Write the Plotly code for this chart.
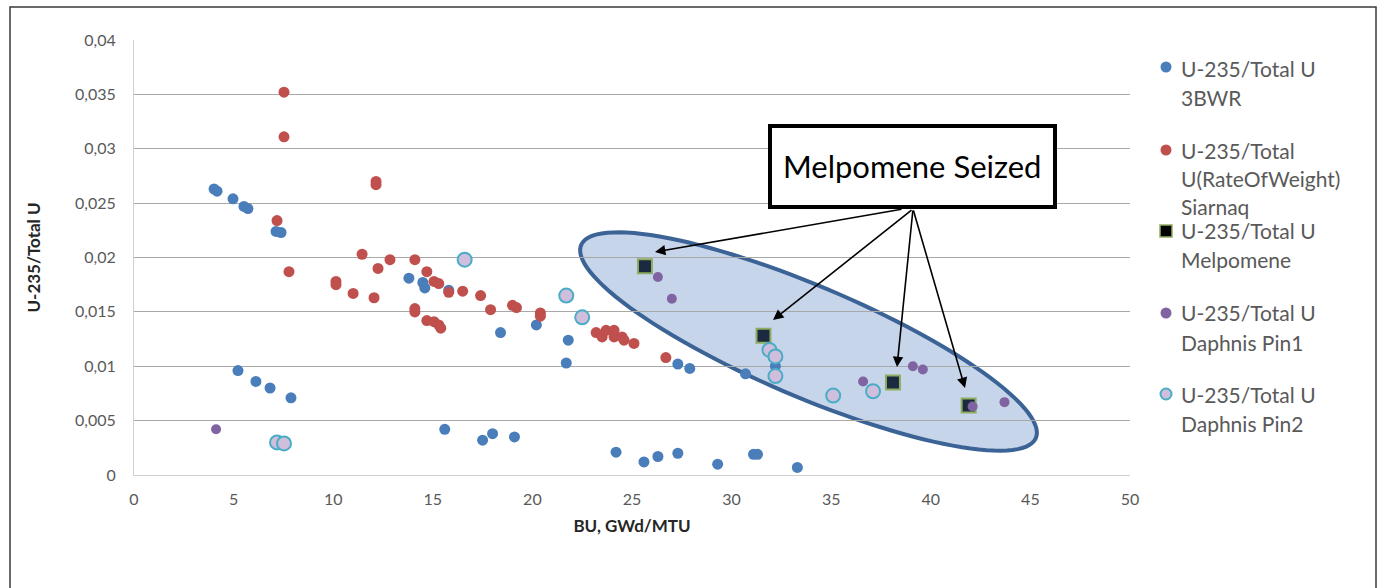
import numpy as np
import plotly.graph_objects as go

# ---- data: U-235 / total U versus burn-up (GWd/MTU) ----
bwr_bu = [4.02, 4.17, 4.97, 5.52, 5.72, 7.13, 7.38, 5.22, 6.12, 6.83, 7.88,
          13.8, 14.5, 14.6, 15.8, 18.4, 20.2, 21.8, 21.7, 15.6, 17.5, 18.0,
          19.1, 24.2, 25.6, 26.3, 27.3, 27.3, 27.9, 29.3, 30.7, 31.1, 31.3,
          32.2, 33.3]
bwr_ratio = [0.0263, 0.0261, 0.0254, 0.0247, 0.0245, 0.0224, 0.0223, 0.0096,
             0.0086, 0.0080, 0.0071, 0.0181, 0.0177, 0.0172, 0.0170, 0.0131,
             0.0138, 0.0124, 0.0103, 0.0042, 0.0032, 0.0038, 0.0035, 0.0021,
             0.0012, 0.0017, 0.0020, 0.0102, 0.0098, 0.0010, 0.0093, 0.0019,
             0.0019, 0.0100, 0.0007]

siarnaq_bu = [7.53, 7.53, 12.15, 12.15, 7.18, 7.78, 11.45, 12.25, 12.85, 14.1,
              10.14, 10.14, 11.0, 12.05, 14.7, 15.06, 15.3, 15.8, 16.5, 17.4,
              17.9, 19.0, 19.2, 20.4, 20.4, 14.1, 14.1, 14.7, 15.06, 15.3, 15.4,
              23.2, 23.5, 23.7, 24.1, 24.1, 24.5, 24.6, 25.1, 26.7]
siarnaq_ratio = [0.0352, 0.0311, 0.0270, 0.0267, 0.0234, 0.0187, 0.0203, 0.0190,
                 0.0198, 0.0198, 0.0178, 0.0175, 0.0167, 0.0163, 0.0187, 0.0178,
                 0.0176, 0.0168, 0.0169, 0.0165, 0.0152, 0.0156, 0.0154, 0.0149,
                 0.0146, 0.0153, 0.0150, 0.0142, 0.0141, 0.0138, 0.0135, 0.0131,
                 0.0127, 0.0133, 0.0133, 0.0127, 0.0127, 0.0124, 0.0121, 0.0108]

melpomene_bu = [25.65, 31.6, 38.1, 41.9]
melpomene_ratio = [0.0192, 0.0128, 0.0085, 0.0064]

pin1_bu = [4.12, 26.3, 27.0, 36.6, 39.1, 39.6, 42.1, 43.7]
pin1_ratio = [0.0042, 0.0182, 0.0162, 0.0086, 0.0100, 0.0097, 0.0063, 0.0067]

pin2_bu = [7.18, 7.53, 16.6, 21.7, 22.5, 31.9, 32.2, 32.2, 35.1, 37.1]
pin2_ratio = [0.0030, 0.0029, 0.0198, 0.0165, 0.0145, 0.0115, 0.0109, 0.0091,
              0.0073, 0.0077]

x_ticks = [0, 5, 10, 15, 20, 25, 30, 35, 40, 45, 50]
y_ticks = [0, 0.005, 0.01, 0.015, 0.02, 0.025, 0.03, 0.035, 0.04]
y_tick_text = ["0", "0,005", "0,01", "0,015", "0,02", "0,025", "0,03", "0,035", "0,04"]

series_names = [
    ["U-235/Total U", "3BWR"],
    ["U-235/Total", "U(RateOfWeight)", "Siarnaq"],
    ["U-235/Total U", "Melpomene"],
    ["U-235/Total U", "Daphnis Pin1"],
    ["U-235/Total U", "Daphnis Pin2"],
]

# ---- layout geometry ----
W, H = 1377, 588
ML, MR, MT, MB = 134, 247, 40, 113
PW, PH = W - ML - MR, H - MT - MB
X_RANGE = [0, 50]
Y_RANGE = [0, 0.04]
FONT = "Lato, 'Open Sans', sans-serif"
GREY_TEXT = "#595959"


def px_to_data(px, py):
    """Convert page pixel coordinates to data coordinates."""
    x = X_RANGE[0] + (px - ML) / PW * (X_RANGE[1] - X_RANGE[0])
    y = Y_RANGE[0] + (MT + PH - py) / PH * (Y_RANGE[1] - Y_RANGE[0])
    return x, y


def px_to_paper(px, py):
    return (px - ML) / PW, (MT + PH - py) / PH


fig = go.Figure()

marker_styles = [
    dict(symbol="circle", size=11, color="#4a7ebb", line=dict(width=0)),
    dict(symbol="circle", size=11, color="#c0504d", line=dict(width=0)),
    dict(symbol="square", size=14, color="#1c2a3f", line=dict(width=2, color="#8fad62")),
    dict(symbol="circle", size=10, color="#8064a2", line=dict(width=0)),
    dict(symbol="circle", size=14, color="#cfbfdc", line=dict(width=2, color="#4bacc6")),
]
series_xy = [
    (bwr_bu, bwr_ratio),
    (siarnaq_bu, siarnaq_ratio),
    (melpomene_bu, melpomene_ratio),
    (pin1_bu, pin1_ratio),
    (pin2_bu, pin2_ratio),
]
for (xs, ys), style, name in zip(series_xy, marker_styles, series_names):
    fig.add_trace(go.Scatter(x=xs, y=ys, mode="markers", marker=style,
                             name=" ".join(name), showlegend=False))

# ---- highlight ellipse around the Melpomene / Daphnis group ----
cx_px, cy_px = 808.5, 341.5
a_px, b_px, ang = 247.0, 55.5, np.deg2rad(23.0)
t = np.linspace(0, 2 * np.pi, 120)
ex = cx_px + a_px * np.cos(ang) * np.cos(t) - b_px * np.sin(ang) * np.sin(t)
ey = cy_px + a_px * np.sin(ang) * np.cos(t) + b_px * np.cos(ang) * np.sin(t)
pts = [px_to_data(px, py) for px, py in zip(ex, ey)]
path = "M " + " L ".join(f"{x:.4f},{y:.6f}" for x, y in pts) + " Z"
fig.add_shape(type="path", path=path, xref="x", yref="y", layer="below",
              fillcolor="#c6d5ea", line=dict(color="#3b6396", width=4))

# ---- callout box ----
bx0, by0 = px_to_data(770, 207)
bx1, by1 = px_to_data(1055, 126)
fig.add_shape(type="rect", x0=bx0, x1=bx1, y0=by0, y1=by1, xref="x", yref="y",
              fillcolor="white", line=dict(color="black", width=4), layer="above")
tx, ty = px_to_data(912, 166)
fig.add_annotation(x=tx, y=ty, xref="x", yref="y", text="Melpomene Seized",
                   showarrow=False, font=dict(family=FONT, size=31, color="black"))

# arrows from the callout to the seized samples
arrow_tails = [(903, 209), (913, 209), (913, 209), (913, 209)]
arrow_heads = [(655, 252), (773, 320), (897, 367), (965, 388)]
for (tpx, tpy), (hpx, hpy) in zip(arrow_tails, arrow_heads):
    hx, hy = px_to_data(hpx, hpy)
    ax_, ay_ = px_to_data(tpx, tpy)
    fig.add_annotation(x=hx, y=hy, ax=ax_, ay=ay_, xref="x", yref="y",
                       axref="x", ayref="y", text="", showarrow=True,
                       arrowhead=2, arrowsize=1.3, arrowwidth=1.6,
                       arrowcolor="black")

# ---- legend (drawn beside the plot) ----
legend_marker_y = [67, 150, 231, 313, 394]
legend_line_y = [[68, 97], [150, 178, 206], [231, 259], [313, 342], [394, 423]]
legend_text_x = 1179
legend_marker_x = 1166
for style, name, my, lys in zip(marker_styles, series_names, legend_marker_y, legend_line_y):
    mx_p, my_p = px_to_paper(legend_marker_x, my)
    r = (style["size"] - 2) / 2 if style["symbol"] == "circle" else 6
    if style["symbol"] == "square":
        fig.add_shape(type="rect", xref="paper", yref="paper", xsizemode="pixel",
                      ysizemode="pixel", xanchor=mx_p, yanchor=my_p,
                      x0=-6, x1=6, y0=-6, y1=6, fillcolor="black",
                      line=dict(color="#8fad62", width=1.5))
    else:
        lw = style["line"].get("width", 0)
        fig.add_shape(type="circle", xref="paper", yref="paper", xsizemode="pixel",
                      ysizemode="pixel", xanchor=mx_p, yanchor=my_p,
                      x0=-5.5, x1=5.5, y0=-5.5, y1=5.5, fillcolor=style["color"],
                      line=dict(color=style["line"].get("color", style["color"]),
                                width=lw if lw else 0))
    for line_text, ly in zip(name, lys):
        lx_p, ly_p = px_to_paper(legend_text_x, ly)
        fig.add_annotation(x=lx_p, y=ly_p, xref="paper", yref="paper",
                           text=line_text, showarrow=False, xanchor="left",
                           yanchor="middle",
                           font=dict(family=FONT, size=21, color=GREY_TEXT))

# ---- outer chart frame ----
fx0, fy1 = px_to_paper(10, 7)
fx1, fy0 = px_to_paper(1376, 600)
fig.add_shape(type="rect", xref="paper", yref="paper", x0=fx0, x1=fx1, y0=fy0, y1=fy1,
              line=dict(color="#3a3a3a", width=1.5), fillcolor="rgba(0,0,0,0)")

fig.update_layout(
    width=W, height=H,
    margin=dict(l=ML, r=MR, t=MT, b=MB, pad=0),
    paper_bgcolor="white", plot_bgcolor="white",
    font=dict(family=FONT, color=GREY_TEXT),
    showlegend=False,
)
fig.update_xaxes(
    range=X_RANGE, tickvals=x_ticks, ticktext=[str(v) for v in x_ticks],
    showgrid=False, zeroline=False, showline=True, linecolor="#d0d0d0", linewidth=1,
    ticks="", tickfont=dict(family=FONT, size=16, color=GREY_TEXT),
    ticklabelstandoff=10,
    title=dict(text="<b>BU, GWd/MTU</b>", font=dict(family=FONT, size=17, color="#262626"),
               standoff=12),
)
fig.update_yaxes(
    range=Y_RANGE, tickvals=y_ticks, ticktext=y_tick_text,
    showgrid=True, gridcolor="#a8a8a8", gridwidth=1, zeroline=False,
    showline=True, linecolor="#d0d0d0", linewidth=1,
    ticks="", tickfont=dict(family=FONT, size=16, color=GREY_TEXT),
    ticklabelstandoff=14,
    title=dict(text="<b>U-235/Total U</b>", font=dict(family=FONT, size=17, color="#262626"),
               standoff=30),
)

fig.write_html("out.html")
